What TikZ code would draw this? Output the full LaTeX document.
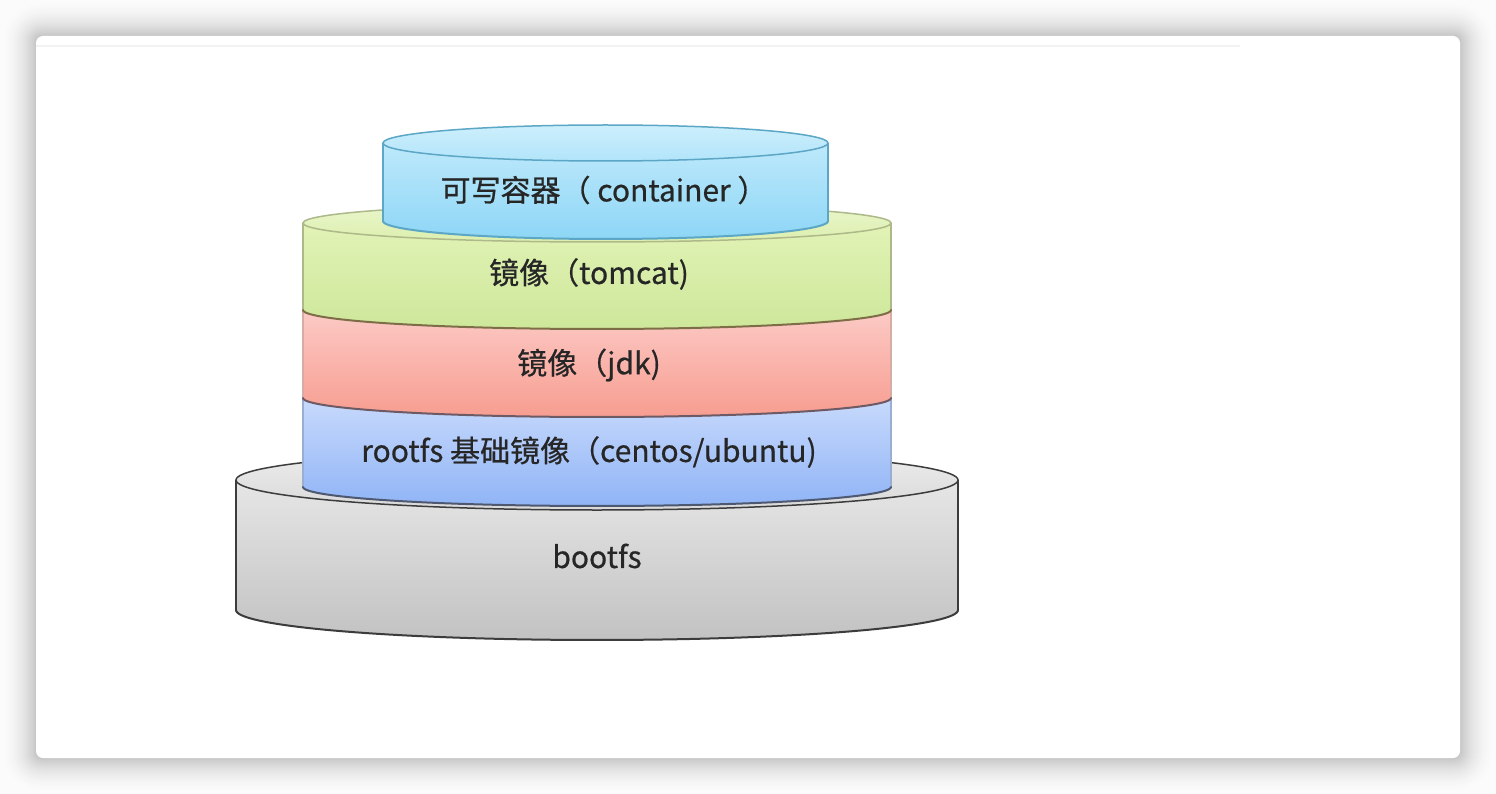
\documentclass[tikz,border=0pt]{standalone}
\usepackage{fontspec}
\setmainfont{Noto Sans CJK SC}
\newfontfamily\lblfont{Noto Sans CJK SC}[FakeBold=0.6]
\definecolor{bgc}{HTML}{FBFBFB}
\definecolor{txt}{HTML}{262626}
\definecolor{ctop}{HTML}{CDEFFC}
\definecolor{cbt}{HTML}{B2E4FA}
\definecolor{cb1}{HTML}{BEE9FB}
\definecolor{cb2}{HTML}{8ED6F6}
\definecolor{cline}{HTML}{5CA6C6}
\definecolor{gtop}{HTML}{EAF6CC}
\definecolor{gbt}{HTML}{DCEFAE}
\definecolor{gb1}{HTML}{E2F3B6}
\definecolor{gb2}{HTML}{CDE79A}
\definecolor{gside}{HTML}{AEB98A}
\definecolor{garc}{HTML}{7E6E48}
\definecolor{rb1}{HTML}{FCCAC6}
\definecolor{rb2}{HTML}{F79D90}
\definecolor{rside}{HTML}{D6ACA6}
\definecolor{rarc}{HTML}{6E5A64}
\definecolor{bb1}{HTML}{C8DAFC}
\definecolor{bb2}{HTML}{90B4F6}
\definecolor{bside}{HTML}{9AAED2}
\definecolor{barc}{HTML}{4E5870}
\definecolor{ktop}{HTML}{EDEDED}
\definecolor{kbt}{HTML}{D9D9D9}
\definecolor{kb1}{HTML}{E6E6E6}
\definecolor{kb2}{HTML}{C2C2C2}
\definecolor{kline}{HTML}{3C3C3C}
\tikzset{
  lbl/.style={text=txt, font=\lblfont\fontsize{30}{34}\selectfont, inner sep=0pt},
}
% body of a cylinder: cx, rx, yTop, yBottom, ry, top colour, bottom colour, side colour, bottom-arc colour
\newcommand\cylbody[9]{%
  \fill[top color=#6, bottom color=#7]
    (#1-#2,#3) -- plot[domain=180:0, samples=80] ({#1+#2*cos(\x)},{#4+#5*sin(\x)})
    -- (#1+#2,#3) -- plot[domain=0:180, samples=80] ({#1+#2*cos(\x)},{#3+#5*sin(\x)}) -- cycle;
  \draw[#8, line width=1.5pt] (#1-#2,#3) -- (#1-#2,#4);
  \draw[#8, line width=1.5pt] (#1+#2,#3) -- (#1+#2,#4);
  \draw[#9, line width=2pt, line cap=round] plot[domain=180:0, samples=80] ({#1+#2*cos(\x)},{#4+#5*sin(\x)});
}
% top ellipse: cx, rx, yTop, ry, top colour, bottom colour, line colour
\newcommand\cyltop[7]{%
  \draw[draw=#7, line width=1.5pt, top color=#5, bottom color=#6] (#1,#3) ellipse [x radius=#2, y radius=#4];
}
\begin{document}
\begin{tikzpicture}[x=1pt,y=-1pt]
\useasboundingbox (0,0) rectangle (1496,794);
\fill[bgc] (0,0) rectangle (1496,794);
% soft shadow round the card
\foreach \i in {36,35,...,1}{
  \pgfmathsetmacro\p{1.5+21*(1-\i/37)^2.0}
  \pgfmathsetmacro\r{\i+6}
  \fill[black!\p!white, rounded corners=\r pt] (36-\i,36-\i) rectangle (1460+\i,758+\i);
}
% card
\fill[white, rounded corners=7pt] (36,36) rectangle (1460,758);
\draw[black!5, line width=1.5pt] (36,46) -- (1240,46);

% bootfs
\cylbody{597}{361}{480}{610}{30}{kb1}{kb2}{kline}{kline}
\cyltop{597}{361}{480}{30}{ktop}{kbt}{kline}
% rootfs
\cylbody{597}{294}{398}{487}{19}{bb1}{bb2}{bside}{barc}
% jdk
\cylbody{597}{294}{310}{398}{19}{rb1}{rb2}{rside}{rarc}
% tomcat
\cylbody{597}{294}{223}{310}{19}{gb1}{gb2}{gside}{garc}
\cyltop{597}{294}{223}{19}{gtop}{gbt}{gside}
% container
\cylbody{605.5}{222.5}{143}{221}{18}{cb1}{cb2}{cline}{cline}
\cyltop{605.5}{222.5}{143}{18}{ctop}{cbt}{cline}

\node[lbl] (container) at (604,190) {可写容器（ container ）};
\node[lbl] (tomcat) at (589,274) {镜像（tomcat)};
\node[lbl] (jdk) at (589,365) {镜像（jdk)};
\node[lbl] (rootfs) at (589,452) {rootfs 基础镜像（centos/ubuntu)};
\node[lbl] (bootfs) at (597,556) {bootfs};
\end{tikzpicture}
\end{document}
